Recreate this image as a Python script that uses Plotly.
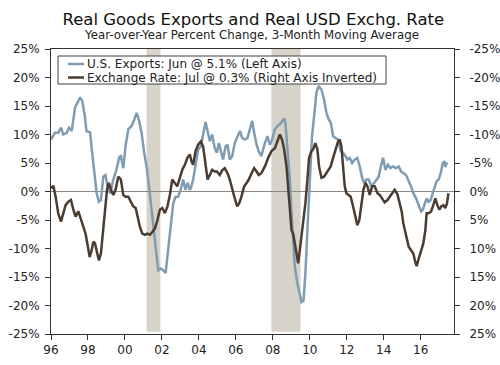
import plotly.graph_objects as go

# ---------------- data ----------------
exp_x = [1996.00, 1996.21, 1996.39, 1996.54, 1996.66, 1996.85, 1996.97, 1997.12, 1997.30, 1997.44,
         1997.57, 1997.69, 1997.83, 1997.92, 1998.11, 1998.19, 1998.34, 1998.47, 1998.59, 1998.70,
         1998.83, 1998.95, 1999.09, 1999.22, 1999.36, 1999.54, 1999.69, 1999.78, 1999.91, 2000.03,
         2000.18, 2000.36, 2000.50, 2000.63, 2000.75, 2000.90, 2001.04, 2001.17, 2001.30, 2001.44,
         2001.58, 2001.71, 2001.80, 2001.94, 2002.07, 2002.20, 2002.34, 2002.49, 2002.61, 2002.74,
         2002.88, 2003.01, 2003.15, 2003.27, 2003.39, 2003.51, 2003.57, 2003.69, 2003.82, 2003.96,
         2004.11, 2004.23, 2004.36, 2004.47, 2004.59, 2004.72, 2004.86, 2004.97, 2005.08, 2005.19,
         2005.31, 2005.44, 2005.55, 2005.67, 2005.80, 2005.94, 2006.09, 2006.22, 2006.34, 2006.48,
         2006.63, 2006.76, 2006.88, 2006.99, 2007.12, 2007.24, 2007.38, 2007.57, 2007.71, 2007.84,
         2007.96, 2008.11, 2008.25, 2008.38, 2008.50, 2008.61, 2008.68, 2008.79, 2008.92, 2009.01,
         2009.10, 2009.19, 2009.33, 2009.46, 2009.55, 2009.66, 2009.76, 2009.87, 2009.99, 2010.12,
         2010.27, 2010.36, 2010.48, 2010.63, 2010.77, 2010.90, 2011.03, 2011.13, 2011.26, 2011.39,
         2011.53, 2011.67, 2011.80, 2011.93, 2012.03, 2012.16, 2012.29, 2012.43, 2012.57, 2012.70,
         2012.83, 2012.94, 2013.06, 2013.19, 2013.33, 2013.48, 2013.60, 2013.73, 2013.84, 2013.96,
         2014.09, 2014.23, 2014.36, 2014.50, 2014.65, 2014.81, 2014.94, 2015.06, 2015.21, 2015.35,
         2015.48, 2015.60, 2015.75, 2015.89, 2016.02, 2016.11, 2016.21, 2016.32, 2016.43, 2016.54,
         2016.65, 2016.75, 2016.86, 2016.97, 2017.08, 2017.19, 2017.28, 2017.33, 2017.42]
exports = [9.1, 10.3, 10.3, 11.2, 10.0, 10.3, 11.2, 10.6, 14.7, 15.6,
           16.5, 15.9, 13.2, 10.6, 10.4, 7.9, 3.8, -0.3, -1.8, -1.5,
           2.6, 2.9, 0.3, -0.3, 2.0, 3.8, 6.0, 6.2, 4.1, 7.9,
           10.9, 11.5, 12.6, 13.8, 12.6, 10.3, 6.8, 4.4, 0.9, -3.2,
           -7.9, -11.5, -13.8, -13.5, -13.8, -14.3, -9.7, -5.0, -2.1, -0.9,
           -0.9, 0.3, 2.1, 0.3, 1.5, 0.3, 0.6, 2.1, 5.0, 7.4,
           7.9, 9.7, 12.2, 10.6, 8.8, 10.0, 7.6, 6.8, 8.5, 7.1,
           5.6, 7.9, 8.2, 5.6, 6.2, 8.5, 9.7, 10.6, 9.4, 9.1,
           9.4, 10.9, 12.4, 10.3, 8.2, 7.0, 6.2, 8.5, 9.7, 8.2,
           9.1, 10.9, 11.5, 11.8, 12.3, 12.8, 12.0, 7.9, 2.1, -3.8,
           -9.7, -13.2, -16.2, -17.9, -19.4, -19.1, -14.4, -6.8, 2.1, 9.7,
           14.4, 17.4, 18.5, 17.9, 16.2, 13.8, 12.6, 12.1, 9.7, 9.4,
           9.1, 7.1, 6.8, 6.2, 5.6, 5.9, 5.0, 5.6, 5.9, 4.4,
           2.4, 1.5, 2.1, 2.1, 0.9, 1.5, 2.1, 2.6, 4.4, 5.9,
           3.8, 4.7, 4.1, 4.4, 4.1, 4.4, 3.5, 3.2, 2.9, 1.8,
           0.9, -0.3, -1.2, -2.4, -3.5, -3.2, -2.1, -1.2, -1.8, -1.5,
           -0.3, 0.9, 1.8, 2.1, 3.2, 5.0, 5.3, 4.3, 5.1]

fx_x = [1996.00, 1996.13, 1996.25, 1996.39, 1996.54, 1996.66, 1996.79, 1996.94, 1997.08, 1997.21,
        1997.33, 1997.48, 1997.62, 1997.75, 1997.87, 1997.98, 1998.09, 1998.20, 1998.29, 1998.38,
        1998.49, 1998.59, 1998.70, 1998.81, 1998.92, 1999.03, 1999.13, 1999.24, 1999.37, 1999.49,
        1999.64, 1999.78, 1999.91, 2000.03, 2000.18, 2000.32, 2000.45, 2000.58, 2000.68, 2000.81,
        2000.94, 2001.08, 2001.22, 2001.35, 2001.48, 2001.62, 2001.76, 2001.89, 2002.02, 2002.16,
        2002.30, 2002.43, 2002.56, 2002.70, 2002.83, 2002.97, 2003.10, 2003.24, 2003.39, 2003.51,
        2003.60, 2003.69, 2003.82, 2003.96, 2004.11, 2004.23, 2004.36, 2004.47, 2004.59, 2004.72,
        2004.86, 2004.97, 2005.13, 2005.26, 2005.40, 2005.55, 2005.67, 2005.80, 2005.94, 2006.07,
        2006.18, 2006.30, 2006.45, 2006.58, 2006.70, 2006.85, 2006.99, 2007.12, 2007.24, 2007.38,
        2007.57, 2007.75, 2007.93, 2008.11, 2008.25, 2008.38, 2008.50, 2008.61, 2008.74, 2008.83,
        2008.92, 2009.01, 2009.10, 2009.19, 2009.28, 2009.37, 2009.46, 2009.55, 2009.67, 2009.76,
        2009.87, 2009.96, 2010.09, 2010.18, 2010.30, 2010.41, 2010.50, 2010.63, 2010.77, 2010.90,
        2011.03, 2011.13, 2011.26, 2011.39, 2011.53, 2011.62, 2011.71, 2011.80, 2011.89, 2011.98,
        2012.11, 2012.21, 2012.34, 2012.47, 2012.57, 2012.68, 2012.79, 2012.90, 2013.01, 2013.12,
        2013.24, 2013.37, 2013.51, 2013.66, 2013.78, 2013.91, 2014.05, 2014.20, 2014.32, 2014.45,
        2014.59, 2014.74, 2014.86, 2014.97, 2015.06, 2015.21, 2015.35, 2015.48, 2015.60, 2015.71,
        2015.78, 2015.89, 2016.02, 2016.14, 2016.25, 2016.32, 2016.43, 2016.56, 2016.68, 2016.79,
        2016.90, 2017.01, 2017.11, 2017.22, 2017.33, 2017.42, 2017.50]
# actual year-over-year change of the exchange rate (plotted on inverted right axis)
fx_rate = [-0.6, -1.0, 0.9, 3.8, 5.3, 3.8, 2.4, 1.8, 1.5, 3.2,
           4.4, 3.5, 5.0, 6.2, 7.4, 9.4, 11.5, 10.3, 8.8, 9.1,
           10.9, 12.1, 10.9, 7.4, 3.2, -0.3, -1.5, -0.3, 0.6, -0.3,
           -2.6, -2.1, 0.6, 0.9, 0.9, 1.8, 2.6, 2.9, 4.4, 6.2,
           7.4, 7.6, 7.4, 7.6, 7.1, 6.5, 5.0, 3.2, 2.9, 3.8,
           2.6, 0.6, -2.1, -1.5, -0.9, -2.4, -3.8, -4.7, -6.0, -6.5,
           -5.3, -4.7, -7.1, -8.2, -8.8, -7.9, -4.4, -2.1, -2.9, -3.8,
           -3.5, -3.5, -2.9, -3.7, -4.1, -3.2, -2.1, -0.3, 1.2, 2.6,
           2.1, 0.9, -0.9, -1.5, -2.1, -3.2, -4.1, -3.5, -2.9, -3.2,
           -4.4, -5.9, -7.1, -7.6, -8.8, -10.0, -9.1, -7.4, -4.4, -0.9,
           2.6, 6.8, 7.4, 9.1, 11.5, 12.6, 10.3, 7.9, 5.0, 2.1,
           -2.1, -5.9, -7.1, -7.4, -8.5, -7.4, -4.4, -2.4, -2.6, -3.2,
           -3.8, -4.4, -5.9, -7.4, -8.8, -9.1, -7.9, -4.4, -0.9, 0.3,
           0.6, 0.9, 2.6, 4.7, 5.9, 5.0, 2.1, -0.3, -1.5, -0.9,
           0.6, -0.9, -0.9, 0.3, 0.6, 1.2, 1.9, 1.5, 0.9, 0.3,
           -0.3, 0.5, 2.0, 3.5, 5.6, 7.9, 9.7, 10.3, 10.9, 12.4,
           13.1, 11.8, 10.3, 9.1, 6.8, 3.8, 3.8, 3.5, 2.4, 1.2,
           2.4, 3.2, 2.6, 2.4, 2.9, 2.1, 0.3]

rec_start = [2001.17, 2007.92]
rec_end = [2001.92, 2009.50]

x_tickvals = [1996, 1998, 2000, 2002, 2004, 2006, 2008, 2010, 2012, 2014, 2016]
x_ticktext = ["96", "98", "00", "02", "04", "06", "08", "10", "12", "14", "16"]
y_tickvals = [-25, -20, -15, -10, -5, 0, 5, 10, 15, 20, 25]
y_ticktext = ["-25%", "-20%", "-15%", "-10%", "-5%", "0%", "5%", "10%", "15%", "20%", "25%"]

title = "Real Goods Exports and Real USD Exchg. Rate"
subtitle = "Year-over-Year Percent Change, 3-Month Moving Average"
legend_labels = ["U.S. Exports: Jun @ 5.1% (Left Axis)",
                 "Exchange Rate: Jul @ 0.3% (Right Axis Inverted)"]

# ---------------- style ----------------
BLUE = "#7f9cb3"
BROWN = "#4a3c31"
SHADE = "#d7d3c8"
AX = "#333333"
FONT = "DejaVu Sans"
W, H = 500, 365
L, R, T, B = 51, 454, 49, 334


def px(xp):
    return (xp - L) / (R - L)


def py(yp):
    return (B - yp) / (B - T)


fig = go.Figure()
fig.add_trace(go.Scatter(x=exp_x, y=exports, mode="lines", name=legend_labels[0],
                         line=dict(color=BLUE, width=2.5), yaxis="y"))
fig.add_trace(go.Scatter(x=fx_x, y=fx_rate, mode="lines", name=legend_labels[1],
                         line=dict(color=BROWN, width=2.5), yaxis="y2"))

shapes = []
for s, e in zip(rec_start, rec_end):
    shapes.append(dict(type="rect", xref="x", yref="paper", x0=s, x1=e, y0=0.008, y1=1,
                       fillcolor=SHADE, line=dict(width=0), layer="below"))
shapes.append(dict(type="line", xref="paper", yref="y", x0=0, x1=1, y0=0, y1=0,
                   line=dict(color="#8c8781", width=1), layer="below"))
# legend box
shapes.append(dict(type="rect", xref="paper", yref="paper", x0=px(58), x1=px(386),
                   y0=py(84), y1=py(56), fillcolor="white", line=dict(color="#404040", width=1)))
for yy, col in [(64, BLUE), (77.5, BROWN)]:
    shapes.append(dict(type="line", xref="paper", yref="paper", x0=px(68), x1=px(84),
                       y0=py(yy), y1=py(yy), line=dict(color=col, width=2.5)))

annotations = [
    dict(text=subtitle, xref="paper", yref="paper", x=px(251), y=py(35), showarrow=False,
         xanchor="center", yanchor="middle", font=dict(family=FONT, size=11.8, color="#222")),
]
for yy, lab in [(64, legend_labels[0]), (77.5, legend_labels[1])]:
    annotations.append(dict(text=lab, xref="paper", yref="paper", x=px(85), y=py(yy),
                            showarrow=False, xanchor="left", yanchor="middle",
                            font=dict(family=FONT, size=12, color="#222")))

axis_common = dict(showgrid=False, zeroline=False, showline=True, linecolor=AX, linewidth=1,
                   ticks="outside", ticklen=5, tickcolor=AX, automargin=False,
                   tickfont=dict(family=FONT, size=12, color="#222"))

fig.update_layout(
    template="none",
    width=W, height=H, margin=dict(l=L, r=W - R, t=T, b=H - B, pad=0, autoexpand=False),
    paper_bgcolor="white", plot_bgcolor="white", showlegend=False,
    font=dict(family=FONT, size=12, color="#222"),
    title=dict(text=title, x=251 / W, xanchor="center", y=1 - 19 / H, yanchor="middle",
               xref="paper", yref="container", font=dict(family=FONT, size=16.5, color="#111")),
    shapes=shapes, annotations=annotations,
    xaxis=dict(range=[1996, 2017.8], tickvals=x_tickvals, ticktext=x_ticktext,
               mirror=True, **axis_common),
    yaxis=dict(range=[-25, 25], tickvals=y_tickvals, ticktext=y_ticktext,
               ticklabelstandoff=3, **axis_common),
    yaxis2=dict(range=[25, -25], overlaying="y", side="right", tickvals=y_tickvals,
                ticktext=y_ticktext, ticklabelstandoff=7, **axis_common),
)

fig.write_html("out.html", config={"displayModeBar": False},
               post_script="document.body.style.margin='0';document.body.style.padding='0';")
